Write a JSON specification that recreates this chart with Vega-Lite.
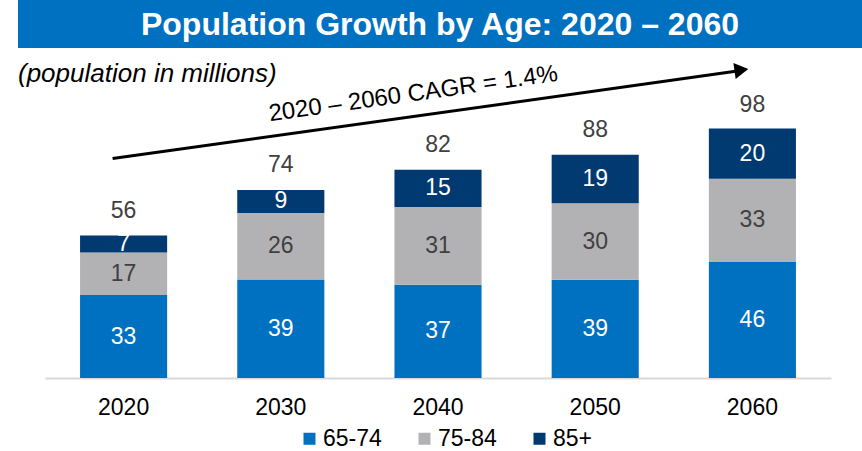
{
  "$schema": "https://vega.github.io/schema/vega-lite/v6.json",
  "padding": {"left": 18, "top": 0, "right": 0, "bottom": 0},
  "autosize": {"type": "pad"},
  "spacing": 0,
  "config": {"view": {"stroke": null}, "font": "Liberation Sans", "concat": {"spacing": 0}},
  "datasets": {
    "segments": [
      {"year": "2020", "group": "65-74", "value": 32.7},
      {"year": "2020", "group": "75-84", "value": 16.8},
      {"year": "2020", "group": "85+", "value": 6.7},
      {"year": "2030", "group": "65-74", "value": 38.9},
      {"year": "2030", "group": "75-84", "value": 26.2},
      {"year": "2030", "group": "85+", "value": 9.1},
      {"year": "2040", "group": "65-74", "value": 36.8},
      {"year": "2040", "group": "75-84", "value": 30.7},
      {"year": "2040", "group": "85+", "value": 14.7},
      {"year": "2050", "group": "65-74", "value": 38.8},
      {"year": "2050", "group": "75-84", "value": 30.1},
      {"year": "2050", "group": "85+", "value": 19.2},
      {"year": "2060", "group": "65-74", "value": 45.8},
      {"year": "2060", "group": "75-84", "value": 32.8},
      {"year": "2060", "group": "85+", "value": 19.8}
    ],
    "totals": [
      {"year": "2020", "total": 56},
      {"year": "2030", "total": 74},
      {"year": "2040", "total": 82},
      {"year": "2050", "total": 88},
      {"year": "2060", "total": 98}
    ],
    "annot": [{"note": "2020 – 2060 CAGR = 1.4%"}]
  },
  "vconcat": [
    {
      "width": 844,
      "height": 48,
      "view": {"fill": "#0070C0", "stroke": null},
      "data": {"values": [{"t": "Population Growth by Age: 2020 – 2060"}]},
      "mark": {"type": "text", "color": "white", "fontSize": 32, "fontWeight": "bold", "baseline": "alphabetic", "align": "center", "dy": 11},
      "encoding": {"text": {"field": "t"}}
    },
    {
      "width": 844,
      "height": 330,
      "title": {"text": "(population in millions)", "anchor": "start", "frame": "group", "fontSize": 26, "fontStyle": "italic", "fontWeight": "normal", "color": "black", "offset": -60, "baseline": "alphabetic"},
      "layer": [
        {
          "data": {"name": "segments"},
          "mark": {"type": "bar"},
          "encoding": {
            "x": {"field": "year", "type": "nominal", "scale": {"range": [27, 813], "paddingInner": 0.446, "paddingOuter": 0.223},
                  "axis": {"title": null, "labelAngle": 0, "ticks": false, "domainColor": "#D9D9D9", "domainWidth": 2, "labelFontSize": 23, "labelColor": "black", "labelPadding": 18}},
            "y": {"field": "value", "type": "quantitative", "stack": "zero", "scale": {"domain": [0, 130.2], "nice": false}, "axis": null},
            "order": {"field": "group", "type": "ordinal", "sort": "ascending"},
            "color": {"field": "group", "type": "nominal",
                      "scale": {"domain": ["65-74", "75-84", "85+"], "range": ["#0070C0", "#B2B2B5", "#003A70"]},
                      "legend": {"orient": "none", "legendX": 280, "legendY": 427, "direction": "horizontal", "title": null, "symbolType": "square", "symbolSize": 144, "symbolStrokeWidth": 0, "labelFontSize": 23, "labelColor": "black", "columnPadding": 31, "labelOffset": 2, "padding": 0}}
          }
        },
        {
          "data": {"name": "segments"},
          "mark": {"type": "text", "fontSize": 23, "baseline": "middle"},
          "encoding": {
            "x": {"field": "year", "type": "nominal"},
            "y": {"field": "value", "type": "quantitative", "stack": "zero", "bandPosition": 0.5},
            "order": {"field": "group", "type": "ordinal", "sort": "ascending"},
            "detail": {"field": "group"},
            "text": {"field": "value", "format": ".0f"},
            "color": {"condition": {"test": "datum.group === '75-84'", "value": "#404040"}, "value": "white"}
          }
        },
        {
          "data": {"name": "totals"},
          "mark": {"type": "text", "fontSize": 23, "color": "#404040", "baseline": "alphabetic", "dy": -18},
          "encoding": {
            "x": {"field": "year", "type": "nominal"},
            "y": {"field": "total", "type": "quantitative"},
            "text": {"field": "total"}
          }
        },
        {
          "data": {"name": "annot"},
          "mark": {"type": "rule", "strokeWidth": 3, "color": "black", "xOffset": -11, "x2Offset": -15},
          "encoding": {
            "x": {"datum": "2020"},
            "x2": {"datum": "2060"},
            "y": {"datum": 86.6},
            "y2": {"datum": 121.1}
          }
        },
        {
          "data": {"name": "annot"},
          "mark": {"type": "point", "shape": "triangle-right", "filled": true, "color": "black", "opacity": 1, "size": 256, "angle": -8, "xOffset": -11},
          "encoding": {
            "x": {"datum": "2060"},
            "y": {"datum": 121.5}
          }
        },
        {
          "data": {"name": "annot"},
          "mark": {"type": "text", "fontSize": 24, "angle": -8, "dx": -24, "baseline": "alphabetic", "align": "center", "color": "black"},
          "encoding": {
            "x": {"datum": "2040"},
            "y": {"datum": 110.6},
            "text": {"field": "note"}
          }
        }
      ]
    }
  ]
}
